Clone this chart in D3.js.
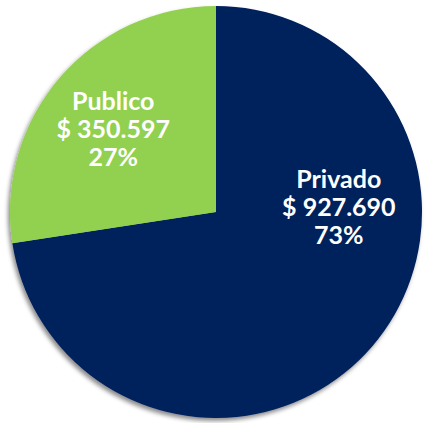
<!DOCTYPE html>
<html>
<head>
<meta charset="utf-8">
<script src="https://cdn.jsdelivr.net/npm/d3@7"></script>
<style>
  body { margin: 0; background: #fff; }
</style>
</head>
<body>
<div id="chart-area"></div>
<script>
const WIDTH = 426;
const HEIGHT = 423;
const CENTER = { X: 216, Y: 212 };
const RADIUS = 206;

// data
const categories = ["Privado", "Publico"];
const values = [927690, 350597];
const amountLabels = ["$ 927.690", "$ 350.597"];
const percentLabels = ["73%", "27%"];
const colors = ["#00205b", "#92d050"];

const data = categories.map((c, i) => ({
  name: c,
  value: values[i],
  amount: amountLabels[i],
  pct: percentLabels[i],
}));

const svg = d3
  .select("#chart-area")
  .append("svg")
  .attr("width", WIDTH)
  .attr("height", HEIGHT);

// soft shadow under the pie
const defs = svg.append("defs");
defs
  .append("filter")
  .attr("id", "shadow")
  .attr("x", "-10%")
  .attr("y", "-10%")
  .attr("width", "120%")
  .attr("height", "120%")
  .append("feDropShadow")
  .attr("dx", -2)
  .attr("dy", 3)
  .attr("stdDeviation", 2)
  .attr("flood-color", "#000")
  .attr("flood-opacity", 0.45);

const g = svg
  .append("g")
  .attr("transform", `translate(${CENTER.X}, ${CENTER.Y})`);

const pie = d3.pie().sort(null).value((d) => d.value);
const arc = d3.arc().innerRadius(0).outerRadius(RADIUS);
const labelArc = d3.arc().innerRadius(RADIUS * 0.6).outerRadius(RADIUS * 0.6);

const arcs = pie(data);

g.append("g")
  .attr("filter", "url(#shadow)")
  .selectAll("path")
  .data(arcs)
  .enter()
  .append("path")
  .attr("d", arc)
  .attr("fill", (d, i) => colors[i]);

// labels, nudged from the slice centroid to where the original sits
const nudges = [
  [29, -104],
  [-9, -22],
];

const labels = g
  .selectAll(".label")
  .data(arcs)
  .enter()
  .append("text")
  .attr("class", "label")
  .attr("transform", (d, i) => {
    const c = labelArc.centroid(d);
    return `translate(${c[0] + nudges[i][0]}, ${c[1] + nudges[i][1]})`;
  })
  .attr("text-anchor", "middle")
  .attr("font-family", "Lato, 'Open Sans', sans-serif")
  .attr("font-weight", "bold")
  .attr("font-size", "25px")
  .attr("fill", "#fff");

labels.append("tspan").attr("x", 0).attr("dy", 0).text((d) => d.data.name);
labels.append("tspan").attr("x", 0).attr("dy", 28).text((d) => d.data.amount);
labels.append("tspan").attr("x", 0).attr("dy", 28).text((d) => d.data.pct);
</script>
</body>
</html>
